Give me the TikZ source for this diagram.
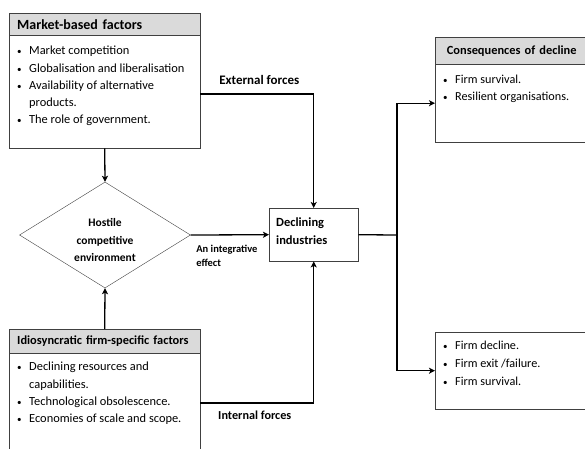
\documentclass[tikz,border=0pt]{standalone}
\usepackage{fontspec}
\setmainfont{Carlito}
\usetikzlibrary{shapes.geometric,arrows.meta}
\newcommand{\bul}{\makebox[12pt][l]{\small\textbullet}}
\newcommand{\ind}{\hspace*{12pt}}
\tikzset{
  headbox/.style = {draw = boxline, fill = headgrey, anchor = north west, inner xsep = 8pt, font = \fontsize{12.4}{14}\selectfont\bfseries},
  framebox/.style = {draw = boxline, anchor = north west, inner sep = 0pt},
  listtext/.style = {anchor = north west, inner sep = 0pt, align = left, font = \fontsize{12.4}{17.2}\selectfont},
  link/.style = {line width = 1.3pt, -{Stealth[length = 6pt, width = 6pt, inset = 1.5pt]}},
  plainlink/.style = {line width = 1.3pt}
}
\begin{document}
\begin{tikzpicture}[x = 1pt, y = -1pt]
\definecolor{headgrey}{HTML}{DADADA}
\definecolor{boxline}{HTML}{404040}
\useasboundingbox (0, 0) rectangle (585, 448);
\clip (0, 0) rectangle (585, 448);
\node[headbox, minimum width = 191pt, minimum height = 22pt, text width = 175pt, align = left, font = \fontsize{14}{16}\selectfont\bfseries] (mkthead) at (9, 13) {Market-based factors};
\node[framebox, minimum width = 191pt, minimum height = 113pt] (mkt) at (9, 35) {};
\node[listtext] (mktlist) at (17, 46) {\bul Market competition\\ \bul Globalisation and liberalisation\\ \bul Availability of alternative\\ \ind products.\\ \bul The role of government.};
\node[draw = boxline, diamond, aspect = 1.6, inner sep = 0pt, minimum width = 171pt, minimum height = 106pt, label = {[yshift = -5pt, align = center, font = \fontsize{11.5}{17.5}\selectfont\bfseries]center:Hostile\\ competitive\\ environment}] (hce) at (105, 235) {};
\node[headbox, minimum width = 191pt, minimum height = 24pt, text width = 175pt, align = left] (idhead) at (9, 329) {Idiosyncratic firm-specific factors};
\node[framebox, minimum width = 191pt, minimum height = 120pt] (idio) at (9, 353) {};
\node[listtext] (idlist) at (17, 362) {\bul Declining resources and\\ \ind capabilities.\\ \bul Technological obsolescence.\\ \bul Economies of scale and scope.};
\node[draw = boxline, anchor = north west, minimum width = 89pt, minimum height = 53pt, label = {[anchor = west, xshift = 7pt, yshift = 4pt, inner sep = 0pt, align = left, font = \fontsize{12.5}{18}\selectfont\bfseries]west:Declining\\ industries}] (dec) at (269, 208) {};
\node[headbox, minimum width = 153pt, minimum height = 27pt, text width = 137pt, align = center] (conhead) at (435, 37) {Consequences of decline};
\node[framebox, minimum width = 153pt, minimum height = 78pt] (con) at (435, 64) {};
\node[listtext, font = \fontsize{12.2}{17.3}\selectfont] (conlist) at (443, 75) {\bul Firm survival.\\ \bul Resilient organisations.};
\node[framebox, minimum width = 153pt, minimum height = 77pt] (out) at (435, 332) {};
\node[listtext, font = \fontsize{12.2}{17.8}\selectfont] (outlist) at (443, 341) {\bul Firm decline.\\ \bul Firm exit /failure.\\ \bul Firm survival.};
\coordinate (split) at (397, 235);
\draw[link] (mkt.south) -- (hce.north);
\draw[link] (idhead.north) -- (hce.south);
\draw[link] (mkt.east |- 0, 94) -| node[pos = 0.26, above = 5pt, font = \fontsize{13}{15}\selectfont\bfseries] {External forces} (dec.north);
\draw[link] (idio.east |- 0, 403) -| node[pos = 0.24, below = 4pt, font = \fontsize{12.2}{14}\selectfont\bfseries] {Internal forces} (dec.south);
\draw[link] (hce.east) -- node[at start, anchor = north west, xshift = 5pt, yshift = -9pt, align = left, inner sep = 0pt, font = \fontsize{10.5}{14}\selectfont\bfseries] {An integrative\\ effect} (dec.west);
\draw[plainlink] (dec.east) -- (split);
\draw[link] (split) |- (con.west);
\draw[link] (split) |- (out.west);
\end{tikzpicture}
\end{document}
